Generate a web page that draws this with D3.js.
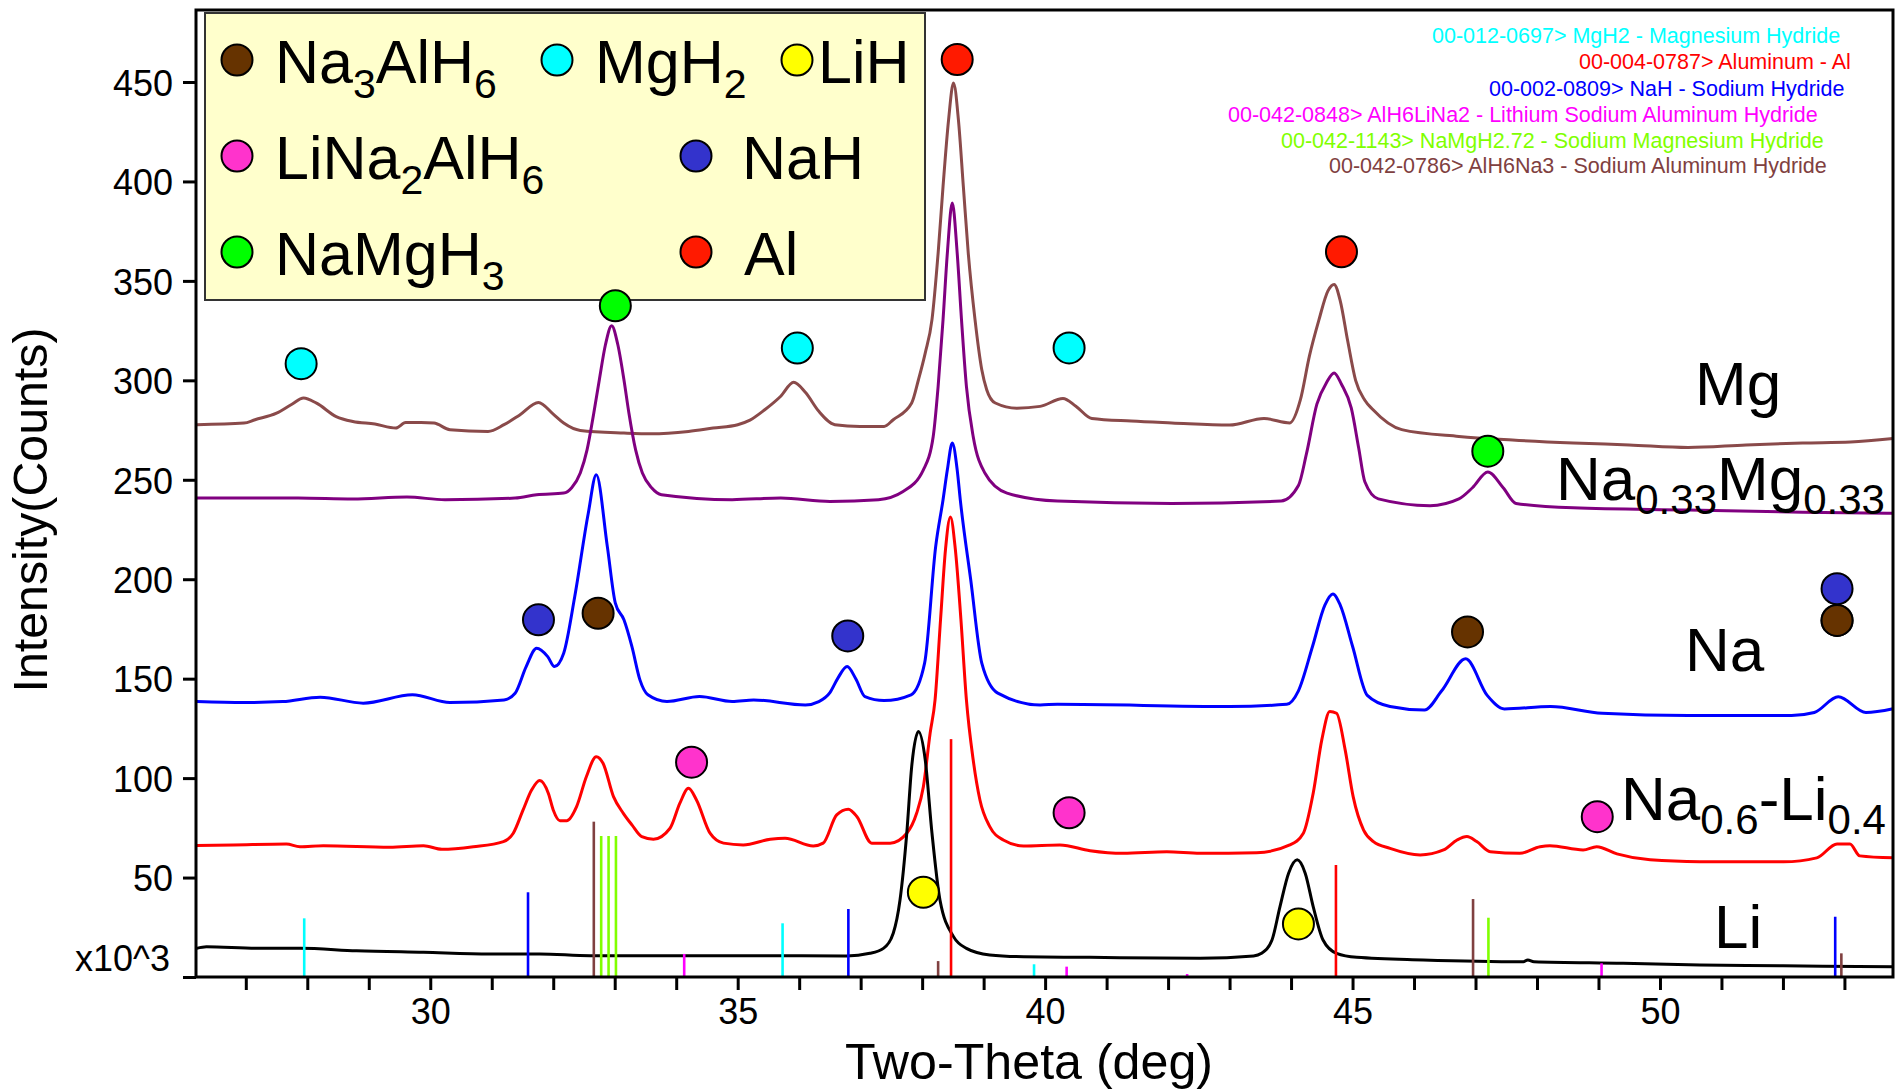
<!DOCTYPE html>
<html><head><meta charset="utf-8">
<script src="https://cdn.jsdelivr.net/npm/d3@7"></script>
<style>
html,body{margin:0;padding:0;background:#fff;}
svg{display:block;font-family:"Liberation Sans",Arial,Helvetica,sans-serif;}
</style></head><body>
<svg id="chart" width="1899" height="1092"></svg>
<script>
// ---------------- DATA ----------------
const xTickValues = d3.range(27, 54);
const xTickLabels = [30, 35, 40, 45, 50];
const yTickValues = [0, 50, 100, 150, 200, 250, 300, 350, 400, 450];

// series: [two-theta (deg), intensity (x10^3 counts)]
const seriesMg = [[26.2,277.7],[26.97,278.5],[27.15,280.2],[27.5,283.5],[27.75,288],[27.94,291.1],[28.15,288.5],[28.47,281.8],[28.74,279.3],[29.1,278],[29.44,276],[29.6,278.8],[29.85,278.8],[30.06,278.5],[30.32,275.2],[30.94,274.3],[31.2,277.7],[31.45,282.5],[31.76,288.9],[32.0,283],[32.17,278.5],[32.44,274.8],[33.15,273.5],[33.59,273.1],[34.2,274.3],[34.6,276],[35.0,277.7],[35.2,280],[35.44,285.2],[35.7,292],[35.91,299],[36.1,294],[36.32,284.4],[36.58,277.7],[36.99,276.8],[37.38,276.8],[37.53,280.2],[37.83,288.6],[37.94,300.3],[38.05,313.7],[38.16,330.5],[38.26,364],[38.34,397.5],[38.43,431],[38.51,449.5],[38.59,431],[38.67,397.5],[38.75,364],[38.86,330.5],[38.97,305.3],[39.05,295.3],[39.19,288.6],[39.54,286],[39.92,286.9],[40.29,290.9],[40.5,287],[40.76,280.8],[41.4,279.5],[42.06,278.6],[43.0,277.5],[43.56,280.8],[43.98,278.6],[44.15,290],[44.3,312.4],[44.45,330],[44.6,345],[44.7,348.2],[44.8,340],[44.92,320],[45.05,300],[45.2,290],[45.33,285.3],[45.8,275.2],[46.73,271.8],[47.6,270],[48.59,268.5],[49.5,267.5],[50.46,266.2],[51.4,267.5],[52.32,268.5],[53.1,269],[53.79,270.7]];

const seriesNaMg = [[26.2,240.8],[27.85,240.8],[28.74,240.3],[29.62,241.3],[30.24,240],[31.38,240.8],[31.73,242.5],[32.17,243.3],[32.3,246],[32.44,253.4],[32.55,265],[32.66,283.6],[32.75,300.3],[32.85,318],[32.95,327.5],[33.05,318],[33.15,300.3],[33.23,283.7],[33.34,265],[33.45,253.4],[33.6,246],[33.76,242.5],[34.91,240],[35.7,240.8],[36.5,239.1],[37.29,240],[37.69,244.1],[38.02,255],[38.18,271.8],[38.26,297],[38.34,330.5],[38.41,364],[38.49,389.2],[38.57,364],[38.64,330.5],[38.72,297],[38.83,271.8],[39.02,253.4],[39.38,243.3],[40.2,239.3],[42.06,238.1],[43.84,239.3],[44.12,247.1],[44.25,263],[44.42,288],[44.58,299],[44.7,303.7],[44.82,298],[44.98,286],[45.1,266],[45.2,249],[45.42,240.4],[46.26,237],[46.73,240.4],[46.95,246],[47.2,253.9],[47.45,246],[47.66,238.1],[48.59,235.9],[50.46,234.8],[52.32,233.7],[53.79,233.2]];

const seriesNa = [[26.2,138.5],[26.97,138],[27.6,138.5],[28.21,140.7],[28.91,137.7],[29.71,141.9],[30.32,138],[31.2,139.3],[31.38,142.7],[31.56,156.1],[31.73,165.3],[31.91,161.1],[32.02,156.1],[32.17,162.8],[32.35,191.3],[32.57,233.2],[32.7,252.5],[32.88,216.4],[33.01,188],[33.15,179.6],[33.28,166.1],[33.41,149.4],[33.54,141.9],[33.85,138.5],[34.38,141],[34.91,138.5],[35.26,139.3],[36.1,136.8],[36.32,138.5],[36.5,143],[36.63,150.3],[36.78,156.1],[36.92,150],[37.07,141],[37.38,139],[37.82,141.9],[38.04,157.8],[38.22,216.4],[38.34,240],[38.41,255],[38.49,268.5],[38.57,255],[38.62,240],[38.79,199.7],[38.97,157.8],[39.23,142.7],[39.92,136.8],[40.2,137.1],[43.0,136],[43.93,137.1],[44.12,143.9],[44.35,166.3],[44.55,187],[44.68,192.6],[44.8,187],[45.0,166.3],[45.24,141.6],[45.61,136],[46.17,134.2],[46.45,143.9],[46.84,160],[47.19,141.6],[47.47,134.8],[48.22,136],[49.06,132.6],[50.46,131.5],[52.14,131.5],[52.51,133],[52.9,140.9],[53.35,133],[53.79,134.9]];

const seriesNaLi = [[26.2,66.1],[26.8,66.4],[27.66,66.9],[27.88,65.5],[28.26,66],[29.34,65.2],[29.89,66],[30.19,64.2],[30.7,65.5],[31.19,68.1],[31.35,72.3],[31.51,84],[31.65,94.1],[31.78,98.8],[31.92,92.4],[32.0,84],[32.11,78.6],[32.22,78.6],[32.38,85.7],[32.54,100.8],[32.7,110.8],[32.81,107.5],[32.98,90.7],[33.14,82.3],[33.28,76.5],[33.44,70.6],[33.63,69.3],[33.9,74.8],[34.06,87.4],[34.2,94.9],[34.33,89],[34.55,72.3],[34.77,67.3],[35.09,66.4],[35.53,69.3],[35.77,69.8],[36.23,65.9],[36.39,67.3],[36.61,81.5],[36.8,84.4],[36.94,80.6],[37.18,67.3],[37.48,67.3],[37.75,72.3],[37.91,82.3],[38.02,95.7],[38.13,122.6],[38.21,139.3],[38.3,180],[38.38,215],[38.46,231.3],[38.54,215],[38.63,180],[38.72,139.3],[38.83,109.2],[38.94,89],[39.1,75.6],[39.32,68.9],[39.65,65.9],[40.24,66.4],[40.73,63.5],[41.27,62.2],[41.98,63],[42.52,62.2],[43.44,62.5],[43.98,66.4],[44.2,72.3],[44.36,92.4],[44.5,119.2],[44.63,133.5],[44.74,132.6],[44.88,114.2],[45.01,90.7],[45.18,73.9],[45.34,68.1],[45.61,64.7],[46.1,61.4],[46.48,63.9],[46.7,68.9],[46.86,70.6],[47.02,68.1],[47.24,63],[47.72,62.2],[48.05,65.5],[48.21,66],[48.75,63.9],[48.97,65.5],[49.3,61.9],[49.84,58.9],[50.65,58],[52.01,57.9],[52.55,59.9],[52.88,66.9],[53.09,66.9],[53.25,60.9],[53.79,59.9]];

const seriesLi = [[26.2,14.4],[26.36,15.2],[27.18,14.4],[27.88,14.4],[28.8,13.2],[29.89,12.4],[30.97,11.6],[31.78,11.6],[32.6,10.7],[34.39,10.7],[35.31,10.7],[36.77,10.6],[37.15,11.9],[37.37,14.4],[37.53,22],[37.64,38.7],[37.75,72.3],[37.83,105.8],[37.94,123.4],[38.05,109.2],[38.16,72.3],[38.29,38.7],[38.51,20.3],[38.72,14.4],[39.1,11.1],[39.65,10.2],[40.73,9.9],[42.52,9.4],[43.39,10.6],[43.52,11.9],[43.69,18.6],[43.82,35.4],[43.96,52.2],[44.1,58.9],[44.23,52.2],[44.36,35.4],[44.52,18.6],[44.74,11.9],[45.07,9.9],[46.15,8.6],[47.78,7.7],[47.85,8.6],[47.95,7.7],[49.4,6.9],[50.65,6],[52.0,5.6],[53.79,5.2]];

// reference pattern sticks: [two-theta, height]
const sticksMgH2 = [[27.95,29.5],[35.73,27],[39.82,6.4]];
const sticksAl = [[38.47,119.6],[44.73,56.3]];
const sticksNaH = [[31.59,42.6],[36.8,34.2],[52.85,30.3]];
const sticksLiNa2AlH6 = [[34.13,11.6],[40.35,5.2],[42.31,1.5],[49.05,6.9]];
const sticksNaMgH = [[32.78,70.9],[32.9,70.9],[33.02,70.9],[47.21,29.8]];
const sticksNa3AlH6 = [[32.66,78.1],[38.26,8],[46.96,39.2],[52.95,11.9]];

// phase markers: [two-theta, intensity]
const markNa3AlH6 = [[32.73,182.9],[46.87,173.5],[52.88,179.3]];
const markMgH2 = [[27.9,308.4],[35.97,316.2],[40.39,316.3]];
const markLiH = [[38.02,42.6],[44.12,26.7]];
const markLiNa2AlH6 = [[34.25,108],[40.39,82.6],[48.98,80.6]];
const markNaH = [[31.76,179.6],[36.79,171.5],[52.88,195.2]];
const markNaMgH3 = [[33.01,337.5],[47.2,264.4]];
const markAl = [[38.57,461.3],[44.82,364.6]];

const refCards = [
  "00-012-0697> MgH2 - Magnesium Hydride",
  "00-004-0787> Aluminum - Al",
  "00-002-0809> NaH - Sodium Hydride",
  "00-042-0848> AlH6LiNa2 - Lithium Sodium Aluminum Hydride",
  "00-042-1143> NaMgH2.72 - Sodium Magnesium Hydride",
  "00-042-0786> AlH6Na3 - Sodium Aluminum Hydride"
];

// ---------------- CHART ----------------
const svg = d3.select("#chart");
const L = 196, R = 1893, T = 10, B = 977;
const x = d3.scaleLinear().domain([26.19, 53.79]).range([L, R]);
const y = d3.scaleLinear().domain([0, 486.2]).range([B, T]);

const seriesDefs = [
  {data: seriesMg, color: "#8a4a4a"},
  {data: seriesNaMg, color: "#800080"},
  {data: seriesNa, color: "#0000ff"},
  {data: seriesNaLi, color: "#ff0000"},
  {data: seriesLi, color: "#000000"}
];
const line = d3.line().x(d => x(d[0])).y(d => y(d[1])).curve(d3.curveMonotoneX);
svg.append("g").selectAll("path").data(seriesDefs).join("path")
  .attr("d", d => line(d.data)).attr("fill", "none")
  .attr("stroke", d => d.color).attr("stroke-width", 3)
  .attr("stroke-linejoin", "round");

const stickDefs = [
  {data: sticksMgH2, color: "#00ffff"},
  {data: sticksNa3AlH6, color: "#804040"},
  {data: sticksNaMgH, color: "#80ff00"},
  {data: sticksLiNa2AlH6, color: "#ff00ff"},
  {data: sticksNaH, color: "#0000ff"},
  {data: sticksAl, color: "#ff0000"}
];
const sg = svg.append("g");
stickDefs.forEach(s => {
  sg.selectAll(null).data(s.data).join("line")
    .attr("x1", d => x(d[0])).attr("x2", d => x(d[0]))
    .attr("y1", y(0)).attr("y2", d => y(d[1]))
    .attr("stroke", s.color).attr("stroke-width", 2.6);
});

// axes
const yAxis = d3.axisLeft(y).tickValues(yTickValues).tickSize(13).tickSizeOuter(0).tickPadding(10)
  .tickFormat(d => d === 0 ? "x10^3" : d);
const gy = svg.append("g").attr("transform", `translate(${L},0)`).call(yAxis);
gy.selectAll("text").attr("font-size", 36).attr("font-family", "Liberation Sans, Arial, sans-serif")
  .attr("fill", "#000").attr("dy", "0.37em");
gy.selectAll(".tick").filter(d => d === 0).select("text").attr("dy", "-0.17em").attr("x", -26);
gy.selectAll("line").attr("stroke-width", 3);
gy.select(".domain").remove();

const xAxis = d3.axisBottom(x).tickValues(xTickValues).tickSize(13).tickSizeOuter(0).tickPadding(8)
  .tickFormat(d => xTickLabels.includes(d) ? d : "");
const gx = svg.append("g").attr("transform", `translate(0,${B})`).call(xAxis);
gx.selectAll("text").attr("font-size", 36).attr("font-family", "Liberation Sans, Arial, sans-serif").attr("fill", "#000");
gx.selectAll("line").attr("stroke-width", 3);
gx.select(".domain").remove();

svg.append("rect").attr("x", L).attr("y", T).attr("width", R - L).attr("height", B - T)
  .attr("fill", "none").attr("stroke", "#000").attr("stroke-width", 3);

// rich text helper (subscripts)
function rich(g, parts, xPos, yPos, size, subSize, subDy, color) {
  const t = g.append("text").attr("x", xPos).attr("y", yPos).attr("font-size", size).attr("fill", color || "#000");
  let lastSub = false;
  parts.forEach(p => {
    const isSub = p[1] === 1;
    const ts = t.append("tspan").text(p[0]);
    if (isSub) ts.attr("font-size", subSize);
    if (isSub && !lastSub) ts.attr("dy", subDy);
    if (!isSub && lastSub) ts.attr("dy", -subDy);
    lastSub = isSub;
  });
  return t;
}

// legend
const lg = svg.append("g");
lg.append("rect").attr("x", 205).attr("y", 13).attr("width", 720).attr("height", 287)
  .attr("fill", "#ffffcc").attr("stroke", "#333").attr("stroke-width", 2);
const legendItems = [
  {parts: [["Na",0],["3",1],["AlH",0],["6",1]], color: "#663300", cx: 237, cy: 60, tx: 275, ty: 83},
  {parts: [["MgH",0],["2",1]], color: "#00ffff", cx: 557, cy: 60, tx: 595, ty: 83},
  {parts: [["LiH",0]], color: "#ffff00", cx: 797, cy: 60, tx: 818, ty: 83},
  {parts: [["LiNa",0],["2",1],["AlH",0],["6",1]], color: "#ff33cc", cx: 237, cy: 156, tx: 275, ty: 179},
  {parts: [["NaH",0]], color: "#3333cc", cx: 696, cy: 156, tx: 742, ty: 179},
  {parts: [["NaMgH",0],["3",1]], color: "#00ff00", cx: 237, cy: 252, tx: 275, ty: 275},
  {parts: [["Al",0]], color: "#ff1a00", cx: 696, cy: 252, tx: 744, ty: 275}
];
legendItems.forEach(it => {
  lg.append("circle").attr("cx", it.cx).attr("cy", it.cy).attr("r", 15.5)
    .attr("fill", it.color).attr("stroke", "#000").attr("stroke-width", 2);
  rich(lg, it.parts, it.tx, it.ty, 61, 41, 15);
});

// markers
const markDefs = [
  {data: markNa3AlH6, color: "#663300"},
  {data: markMgH2, color: "#00ffff"},
  {data: markLiH, color: "#ffff00"},
  {data: markLiNa2AlH6, color: "#ff33cc"},
  {data: markNaH, color: "#3333cc"},
  {data: markNaMgH3, color: "#00ff00"},
  {data: markAl, color: "#ff1a00"}
];
const mg = svg.append("g");
markDefs.forEach(m => {
  mg.selectAll(null).data(m.data).join("circle")
    .attr("cx", d => x(d[0])).attr("cy", d => y(d[1])).attr("r", 15.5)
    .attr("fill", m.color).attr("stroke", "#000").attr("stroke-width", 2);
});
// Na3AlH6 marker drawn over NaH at 53 deg
mg.append("circle").attr("cx", x(markNa3AlH6[2][0])).attr("cy", y(markNa3AlH6[2][1])).attr("r", 15.5)
  .attr("fill", "#663300").attr("stroke", "#000").attr("stroke-width", 2);

// series labels
const lab = svg.append("g");
rich(lab, [["Mg",0]], 1695, 405, 62, 42, 14);
rich(lab, [["Na",0],["0.33",1],["Mg",0],["0.33",1]], 1556, 500, 62, 42, 14);
rich(lab, [["Na",0]], 1685, 671, 62, 42, 14);
rich(lab, [["Na",0],["0.6",1],["-Li",0],["0.4",1]], 1621, 820, 62, 42, 14);
rich(lab, [["Li",0]], 1714, 948, 62, 42, 14);

// reference card list
const cardColors = ["#00ffff", "#ff0000", "#0000ff", "#ff00ff", "#80ff00", "#804040"];
const cardPos = [[1432,43],[1579,69],[1489,96],[1228,122],[1281,148],[1329,173]];
svg.append("g").selectAll("text").data(refCards).join("text")
  .attr("x", (d, i) => cardPos[i][0]).attr("y", (d, i) => cardPos[i][1])
  .attr("font-size", 21.5).attr("fill", (d, i) => cardColors[i]).text(d => d);

// axis titles
svg.append("text").attr("x", 1029).attr("y", 1079).attr("text-anchor", "middle")
  .attr("font-size", 50).attr("textLength", 368).attr("lengthAdjust", "spacingAndGlyphs")
  .text("Two-Theta (deg)");
svg.append("text").attr("transform", "translate(47,510) rotate(-90)").attr("text-anchor", "middle")
  .attr("font-size", 48).attr("textLength", 365).attr("lengthAdjust", "spacingAndGlyphs")
  .text("Intensity(Counts)");
</script></body></html>
